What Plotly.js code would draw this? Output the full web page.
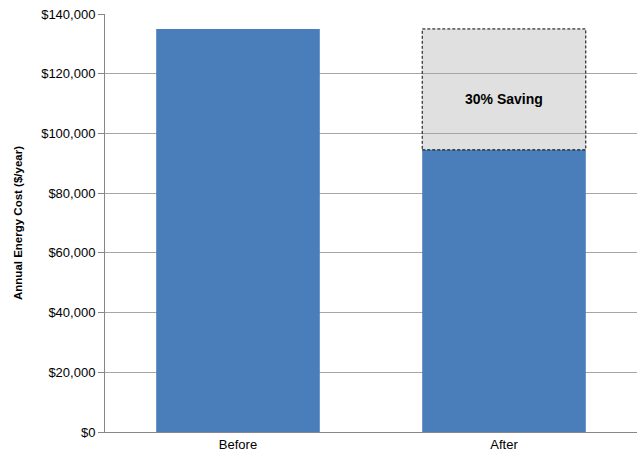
<!DOCTYPE html>
<html>
<head>
<meta charset="utf-8">
<script src="https://cdn.plot.ly/plotly-3.0.1.min.js"></script>
<style>html,body{margin:0;padding:0;background:#fff;}#chart{width:641px;height:453px;}</style>
</head>
<body>
<div id="chart"></div>
<script>
const categories = ["Before", "After"];
const costs = [135000, 94500];
const savingLabel = "30% Saving";
const yTickVals = [0, 20000, 40000, 60000, 80000, 100000, 120000, 140000];
const yTickText = ["$0", "$20,000", "$40,000", "$60,000", "$80,000", "$100,000", "$120,000", "$140,000"];

const barWidthFrac = 0.615;

const traces = [
  {
    type: "bar",
    x: categories,
    y: costs,
    marker: {color: "#4a7ebb"},
    width: barWidthFrac,
    hoverinfo: "skip"
  }
];

const layout = {
  width: 641,
  height: 453,
  margin: {l: 105, r: 4, t: 14, b: 21},
  paper_bgcolor: "#ffffff",
  plot_bgcolor: "#ffffff",
  showlegend: false,
  font: {family: "Liberation Sans, Arial, sans-serif", size: 13, color: "#000"},
  xaxis: {
    type: "category",
    showgrid: false,
    showline: true,
    linecolor: "#878787",
    linewidth: 1,
    ticks: "",
    tickfont: {size: 13, color: "#000"},
    fixedrange: true
  },
  yaxis: {
    range: [0, 140000],
    tickvals: yTickVals,
    ticktext: yTickText,
    showgrid: true,
    gridcolor: "#a6a6a6",
    gridwidth: 1,
    showline: true,
    linecolor: "#878787",
    linewidth: 1,
    ticks: "outside",
    ticklen: 6,
    tickcolor: "#878787",
    tickfont: {size: 13, color: "#000"},
    zeroline: false,
    title: {text: "Annual Energy Cost ($/year)", font: {size: 11.5, color: "#000", weight: "bold"}, standoff: 16},
    fixedrange: true
  },
  shapes: [
    {
      type: "rect",
      xref: "x", yref: "y",
      x0: categories[1], x1: categories[1],
      x0shift: -barWidthFrac / 2, x1shift: barWidthFrac / 2,
      y0: costs[1], y1: costs[0],
      line: {width: 0},
      fillcolor: "#e0e0e0",
      layer: "below"
    },
    {
      type: "rect",
      xref: "x", yref: "y",
      x0: categories[1], x1: categories[1],
      x0shift: -barWidthFrac / 2, x1shift: barWidthFrac / 2,
      y0: costs[1], y1: costs[0],
      line: {color: "#000", width: 1, dash: "3px,2px"},
      fillcolor: "rgba(0,0,0,0)",
      layer: "above"
    }
  ],
  annotations: [
    {
      x: categories[1],
      y: (costs[0] + costs[1]) / 2,
      xref: "x", yref: "y",
      text: "<b>" + savingLabel + "</b>",
      showarrow: false,
      yshift: -10,
      font: {size: 14, color: "#000"}
    }
  ]
};

Plotly.newPlot("chart", traces, layout, {displayModeBar: false, staticPlot: true});
</script>
</body>
</html>
